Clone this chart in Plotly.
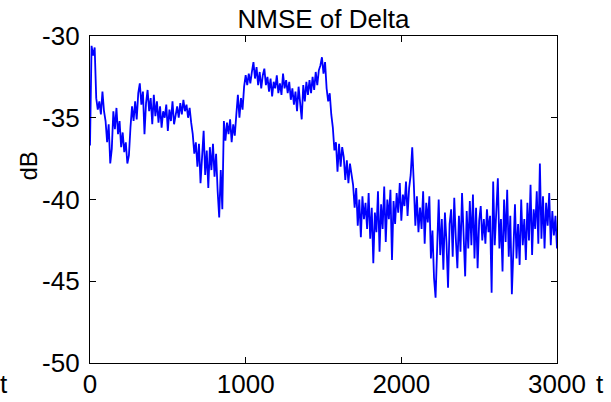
import plotly.graph_objects as go

# NMSE values (dB), one sample every 10 time steps, t = 0..3000
nmse_db = [
    -36.7, -30.6, -31.2, -30.7, -33.8, -34.5, -34.0, -34.8, -33.4, -34.6,
    -35.2, -36.5, -35.4, -37.8, -36.9, -34.6, -35.7, -34.4, -36.0, -35.2,
    -36.8, -35.9, -37.1, -36.5, -37.8, -37.3, -35.6, -34.3, -35.2, -34.0,
    -35.1, -33.5, -32.9, -34.2, -33.4, -36.0, -34.1, -33.3, -34.6, -33.8,
    -35.4, -33.6, -34.9, -34.0, -35.3, -34.3, -35.6, -34.6, -35.0, -34.2,
    -35.8, -34.5, -35.2, -34.0, -35.4, -34.8, -34.3, -35.0, -34.1, -34.8,
    -33.9, -34.6, -34.2, -35.0, -34.4, -35.3, -36.0, -37.2, -36.5, -38.0,
    -36.6, -39.0, -37.5, -35.8, -38.5, -37.0, -39.3, -36.8, -38.2, -36.6,
    -38.6, -37.2, -39.5, -41.1, -38.2, -40.6, -35.2, -36.4, -35.3, -36.0,
    -35.1, -36.5, -35.4, -36.1, -34.8, -33.6, -35.0, -33.8, -34.5, -33.1,
    -32.4, -33.0, -32.3, -32.9, -32.2, -31.6, -32.6, -31.9, -33.0, -32.2,
    -33.2, -32.4, -32.0, -33.0, -32.5, -33.4, -32.6, -33.7, -32.8, -33.2,
    -32.4, -33.5, -32.9, -33.6, -32.3, -33.2, -32.7, -33.5, -32.8, -33.9,
    -33.2, -34.2, -33.4, -34.6, -33.1, -34.0, -35.1, -33.0, -34.0, -32.8,
    -33.6, -32.7, -33.5, -32.5, -33.3, -32.2, -33.0, -32.1, -31.8, -31.3,
    -32.3, -31.6, -33.2, -34.0, -33.5, -34.8, -35.6, -37.0, -36.5, -38.3,
    -36.6, -38.0, -36.8, -37.4, -38.8, -37.6, -39.0, -37.8, -38.5, -39.1,
    -40.5, -39.3, -41.6, -40.0, -42.3, -39.8, -41.2, -40.2, -41.8, -39.6,
    -42.4, -40.5, -43.9, -40.8, -42.0, -39.5, -43.2, -40.3, -41.8, -39.2,
    -42.6, -40.0, -41.2, -39.4, -43.7, -40.1, -41.5, -39.6, -40.8, -39.0,
    -41.3, -39.7, -40.4, -38.9, -41.0, -39.3, -38.5, -36.8, -39.0, -41.6,
    -39.8, -42.0, -40.5, -41.8, -39.5, -42.7, -40.2, -41.4, -39.8, -43.6,
    -41.9, -44.8, -46.0, -42.2, -40.0, -43.4, -41.2, -44.3, -40.8, -42.6,
    -45.4, -41.5, -40.6, -43.5, -39.9, -42.4, -44.2, -41.0, -43.2, -39.6,
    -42.0, -44.7, -40.7, -43.0, -40.1, -42.8, -39.7, -43.6, -40.5, -44.2,
    -41.3, -40.4, -42.5, -41.2, -42.7, -40.6, -42.0, -41.0, -45.7, -38.9,
    -42.8, -40.5, -38.7, -43.0, -41.2, -44.4, -40.0, -42.6, -39.4, -43.5,
    -41.0, -45.8, -42.2, -40.3, -43.6, -41.5, -44.0, -40.0, -42.8, -41.2,
    -43.7, -40.2, -42.5, -39.1, -43.4, -40.6, -41.8, -39.5, -42.7, -37.8,
    -42.4, -39.8, -43.0, -40.2, -41.6, -39.6, -42.8, -40.7, -42.2, -41.0,
    -43.0,
]
time_steps = [10 * i for i in range(len(nmse_db))]

x_ticks = [0, 1000, 2000, 3000]
y_ticks = [-50, -45, -40, -35, -30]

FONT = "Liberation Sans, Arial, sans-serif"

fig = go.Figure()
fig.add_trace(go.Scatter(
    x=time_steps, y=nmse_db, mode="lines",
    line=dict(color="rgb(0,0,255)", width=1.8),
    hoverinfo="skip", showlegend=False,
))

axis_common = dict(
    showline=True, linecolor="black", linewidth=1.2, mirror="ticks",
    ticks="inside", ticklen=6, tickwidth=1, tickcolor="black",
    showgrid=False, zeroline=False, automargin=False,
    tickfont=dict(family=FONT, size=26, color="black"),
)

fig.update_layout(
    width=611, height=402,
    margin=dict(l=90, r=54, t=36, b=39, autoexpand=False),
    paper_bgcolor="white", plot_bgcolor="white",
    title=dict(text="NMSE of Delta", x=0.5, xref="paper", xanchor="center",
               y=1 - 19 / 402, yref="container", yanchor="middle",
               font=dict(family=FONT, size=26, color="black")),
    xaxis=dict(range=[0, 3000], tickvals=x_ticks, ticktext=[str(v) for v in x_ticks],
               ticklabelstandoff=-2, **axis_common),
    yaxis=dict(range=[-50, -30], tickvals=y_ticks, ticktext=[str(v) for v in y_ticks],
               ticklabelstandoff=4, **axis_common),
    annotations=[
        dict(text="dB", textangle=-90, xref="paper", yref="paper",
             x=(27.5 - 90) / 467, y=(363 - 166) / 327, showarrow=False,
             xanchor="center", yanchor="middle",
             font=dict(family=FONT, size=24, color="black")),
        dict(text="t", xref="paper", yref="paper",
             x=(4 - 90) / 467, y=(363 - 384) / 327, showarrow=False,
             xanchor="center", yanchor="middle",
             font=dict(family=FONT, size=26, color="black")),
        dict(text="t", xref="paper", yref="paper",
             x=(600 - 90) / 467, y=(363 - 384) / 327, showarrow=False,
             xanchor="center", yanchor="middle",
             font=dict(family=FONT, size=26, color="black")),
    ],
)

fig.write_html("out.html", config={"displayModeBar": False},
               post_script="document.body.style.margin='0';")
